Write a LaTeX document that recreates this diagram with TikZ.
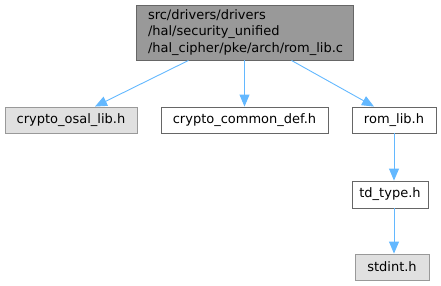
\documentclass[tikz,border=0pt]{standalone}
\usepackage{fontspec}
\setmainfont{DejaVu Sans}
\usetikzlibrary{arrows.meta}
\definecolor{edgeblue}{HTML}{63B8FF}
\definecolor{topfill}{HTML}{999999}
\definecolor{darkborder}{HTML}{666666}
\definecolor{greyfill}{HTML}{E0E0E0}
\definecolor{greyborder}{HTML}{999999}
\tikzset{
  basebox/.style={rectangle, inner sep=0pt, font=\fontsize{13}{16.5}\selectfont, line width=0.9pt},
  whitebox/.style={basebox, draw=darkborder, fill=white},
  greybox/.style={basebox, draw=greyborder, fill=greyfill},
  topbox/.style={basebox, draw=darkborder, fill=topfill, align=left},
  dep/.style={draw=edgeblue, line width=0.9pt, -{Triangle[length=12pt,width=10pt]}}
}
\begin{document}
\begin{tikzpicture}[x=1pt,y=1pt]
\useasboundingbox (0,0) rectangle (441,285);
\node[topbox, minimum width=217, minimum height=55, text width=193] (top) at (244.5,252.5) {src/drivers/drivers\\/hal/security\_unified\\/hal\_cipher/pke/arch/rom\_lib.c};
\node[greybox, minimum width=132, minimum height=26] (osal) at (71,165) {crypto\_osal\_lib.h};
\node[whitebox, minimum width=167, minimum height=26] (common) at (244.5,165) {crypto\_common\_def.h};
\node[whitebox, minimum width=84, minimum height=26] (rom) at (394,165) {rom\_lib.h};
\node[whitebox, minimum width=76, minimum height=27] (td) at (390,90.5) {td\_type.h};
\node[greybox, minimum width=74, minimum height=26] (std) at (392,18) {stdint.h};
\draw[dep] ([xshift=-56pt]top.south) -- ([xshift=24pt]osal.north);
\draw[dep] (top.south) -- (common.north);
\draw[dep] ([xshift=47pt]top.south) -- ([xshift=-20pt]rom.north);
\draw[dep] (rom.south) -- (rom.south |- td.north);
\draw[dep] (td.south -| rom.south) -- (rom.south |- std.north);
\end{tikzpicture}
\end{document}
